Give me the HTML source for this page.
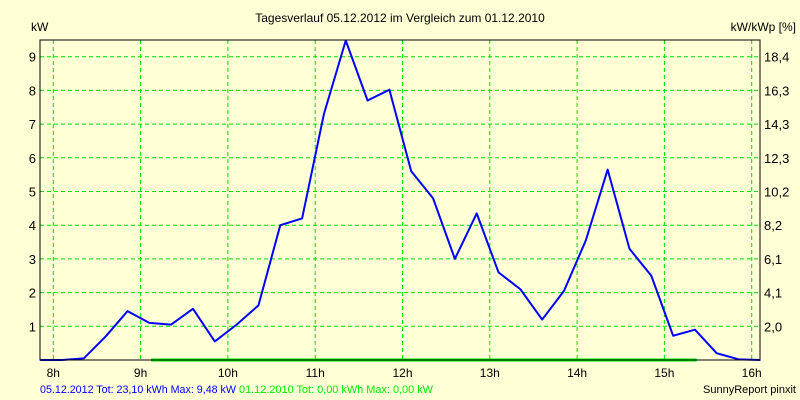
<!DOCTYPE html>
<html><head><meta charset="utf-8"><style>
body{margin:0;background:#FFFFD6;}
svg{display:block;font-family:"Liberation Sans",sans-serif;font-size:12px;}
</style></head><body>
<svg id="chart" width="800" height="400" viewBox="0 0 800 400">
<rect x="0" y="0" width="800" height="400" fill="#FFFFD6"/>
<text x="400" y="22" text-anchor="middle">Tagesverlauf 05.12.2012 im Vergleich zum 01.12.2010</text>
<text x="31" y="31">kW</text>
<text x="796" y="31" text-anchor="end">kW/kWp [%]</text>
<g id="grid"></g>
<g id="marks"></g>
<rect x="40" y="40" width="720" height="320" fill="none" stroke="#000" stroke-width="1"/>
<g id="labels"></g>
<text x="40" y="393" fill="#0000FF" font-size="11" textLength="196" lengthAdjust="spacingAndGlyphs">05.12.2012 Tot: 23,10 kWh Max: 9,48 kW</text>
<text x="239" y="393" fill="#00EE00" font-size="11" textLength="194" lengthAdjust="spacingAndGlyphs">01.12.2010 Tot: 0,00 kWh Max: 0,00 kW</text>
<text x="796" y="393" text-anchor="end" font-size="11">SunnyReport pinxit</text>
</svg>
<script>
const hourTicks=[8,9,10,11,12,13,14,15,16];
const kwTicks=[1,2,3,4,5,6,7,8,9];
const pctLabels=["2,0","4,1","6,1","8,2","10,2","12,3","14,3","16,3","18,4"];
const times=[7.85,8.10,8.35,8.60,8.85,9.10,9.35,9.60,9.85,10.10,10.35,10.60,10.85,11.10,11.35,11.60,11.85,12.10,12.35,12.60,12.85,13.10,13.35,13.60,13.85,14.10,14.35,14.60,14.85,15.10,15.35,15.60,15.85,16.10];
const power2012=[0,0,0.05,0.7,1.45,1.1,1.05,1.52,0.55,1.05,1.62,4.0,4.2,7.3,9.48,7.7,8.02,5.6,4.8,3.0,4.35,2.6,2.1,1.2,2.05,3.55,5.65,3.3,2.5,0.72,0.9,0.2,0.02,0];
const compareTimes=[9.12,15.37];
const power2010=[0,0];
const xs=h=>53.3+87.3*(h-8);
const ys=v=>360-33.7*v;
const NS="http://www.w3.org/2000/svg";
const grid=document.getElementById('grid'),marks=document.getElementById('marks'),labels=document.getElementById('labels');
function mk(tag,attrs,parent){const e=document.createElementNS(NS,tag);for(const k in attrs)e.setAttribute(k,attrs[k]);parent.appendChild(e);return e;}
hourTicks.forEach(h=>{
 const l=mk('line',{x1:xs(h),x2:xs(h),y1:40,y2:360,stroke:'#00E000','stroke-dasharray':'4,3'},grid);
 
 
 const t=mk('text',{x:xs(h),y:377,'text-anchor':'middle'},labels);t.textContent=h+'h';
 
 
});
kwTicks.forEach((v,i)=>{
 const l=mk('line',{x1:40,x2:760,y1:ys(v),y2:ys(v),stroke:'#00E000','stroke-dasharray':'4,3'},grid);
 
 
 const t=mk('text',{x:36,y:ys(v)+5,'text-anchor':'end','font-size':'13'},labels);t.textContent=v;
 
 
 const r=mk('text',{x:764,y:ys(v)+5,'font-size':'13'},labels);r.textContent=pctLabels[i];
 
 
});
const g=mk('polyline',{points:compareTimes.map((t,i)=>xs(t)+','+ys(power2010[i])).join(' '),fill:'none',stroke:'#00F000','stroke-width':'3'},marks);


const b=mk('polyline',{points:times.map((t,i)=>xs(t)+','+ys(power2012[i])).join(' '),fill:'none',stroke:'#0000FF','stroke-width':'2','stroke-linejoin':'round'},marks);


</script>
</body></html>
